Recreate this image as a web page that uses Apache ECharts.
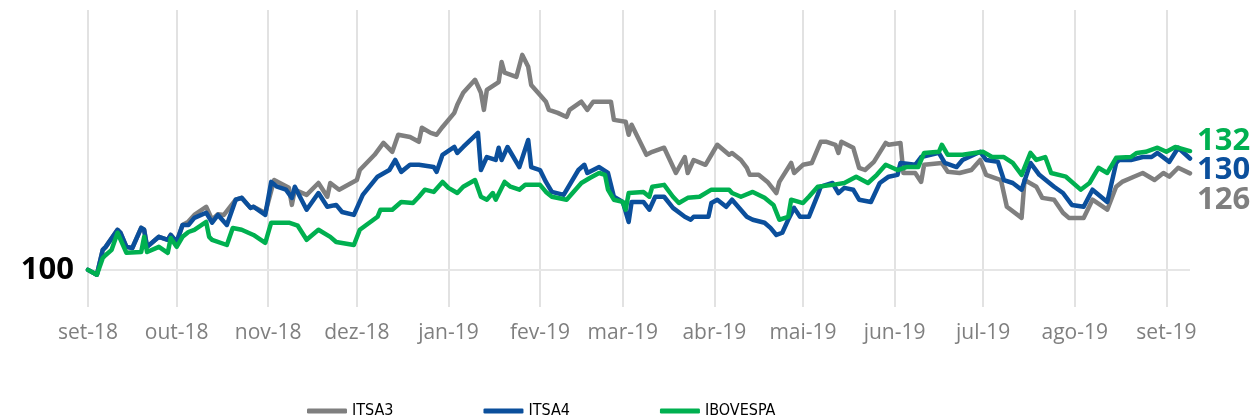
<!DOCTYPE html>
<html>
<head>
<meta charset="utf-8">
<script src="https://cdn.jsdelivr.net/npm/echarts@6/dist/echarts.min.js"></script>
<style>
    html, body { margin: 0; padding: 0; background: #fff; }
    #chart { width: 1257px; height: 419px; }
</style>
</head>
<body>
<div id="chart"></div>
<script>
    // axis runs day by day, labels only on the 1st of each month
    const firstDay = '2018-09-01'
    const lastDay = '2019-09-09'
    const monthLabels = ['set-18', 'out-18', 'nov-18', 'dez-18', 'jan-19', 'fev-19', 'mar-19', 'abr-19', 'mai-19', 'jun-19', 'jul-19', 'ago-19', 'set-19']
    const baseValue = 100

    const itsa3 = [
        ['2018-09-01', 100.0], ['2018-09-04', 98.7], ['2018-09-06', 105.4], ['2018-09-07', 106.2], ['2018-09-11', 110.8], ['2018-09-12', 110.0],
        ['2018-09-14', 106.2], ['2018-09-16', 105.9], ['2018-09-19', 111.3], ['2018-09-20', 110.8], ['2018-09-21', 106.2], ['2018-09-25', 108.9],
        ['2018-09-28', 108.1], ['2018-09-29', 109.4], ['2018-10-01', 107.5], ['2018-10-03', 112.1], ['2018-10-05', 113.0], ['2018-10-07', 114.8],
        ['2018-10-11', 117.0], ['2018-10-13', 113.5], ['2018-10-15', 115.0], ['2018-10-17', 114.8], ['2018-10-21', 118.9], ['2018-10-23', 119.4],
        ['2018-10-26', 116.7], ['2018-10-27', 117.0], ['2018-10-31', 115.3], ['2018-11-03', 124.2], ['2018-11-08', 122.1], ['2018-11-09', 117.5],
        ['2018-11-10', 121.6], ['2018-11-14', 120.2], ['2018-11-18', 123.4], ['2018-11-21', 119.7], ['2018-11-22', 123.4], ['2018-11-25', 121.6],
        ['2018-12-01', 124.2], ['2018-12-02', 126.9], ['2018-12-07', 131.0], ['2018-12-10', 134.2], ['2018-12-13', 131.8], ['2018-12-15', 136.4],
        ['2018-12-19', 135.8], ['2018-12-22', 134.5], ['2018-12-23', 138.3], ['2018-12-26', 136.9], ['2018-12-28', 136.4], ['2018-12-30', 138.5],
        ['2019-01-03', 142.3], ['2019-01-04', 144.5], ['2019-01-06', 147.7], ['2019-01-10', 151.2], ['2019-01-12', 147.7], ['2019-01-13', 143.1],
        ['2019-01-14', 148.5], ['2019-01-18', 150.6], ['2019-01-19', 156.0], ['2019-01-20', 153.1], ['2019-01-24', 152.0], ['2019-01-26', 157.9],
        ['2019-01-28', 154.7], ['2019-01-29', 149.8], ['2019-02-01', 147.1], ['2019-02-03', 145.3], ['2019-02-04', 143.1], ['2019-02-07', 142.3],
        ['2019-02-10', 141.2], ['2019-02-11', 143.1], ['2019-02-15', 145.3], ['2019-02-17', 143.1], ['2019-02-19', 145.3], ['2019-02-25', 145.3],
        ['2019-02-26', 140.4], ['2019-03-02', 139.9], ['2019-03-03', 136.4], ['2019-03-04', 139.1], ['2019-03-09', 131.0], ['2019-03-11', 131.8],
        ['2019-03-15', 132.9], ['2019-03-19', 126.1], ['2019-03-22', 130.4], ['2019-03-23', 126.1], ['2019-03-25', 129.6], ['2019-03-29', 128.3],
        ['2019-04-02', 133.7], ['2019-04-06', 131.0], ['2019-04-07', 131.5], ['2019-04-10', 129.6], ['2019-04-12', 127.5], ['2019-04-13', 125.6],
        ['2019-04-16', 125.6], ['2019-04-19', 123.7], ['2019-04-22', 120.7], ['2019-04-23', 123.7], ['2019-04-27', 128.8], ['2019-04-28', 126.1],
        ['2019-05-01', 128.3], ['2019-05-04', 128.8], ['2019-05-07', 134.5], ['2019-05-09', 134.5], ['2019-05-12', 133.7], ['2019-05-13', 131.5],
        ['2019-05-14', 134.5], ['2019-05-18', 132.9], ['2019-05-20', 127.5], ['2019-05-22', 126.9], ['2019-05-25', 129.1], ['2019-05-29', 134.2],
        ['2019-05-30', 133.7], ['2019-06-03', 134.2], ['2019-06-04', 126.1], ['2019-06-08', 126.1], ['2019-06-10', 123.7], ['2019-06-11', 128.3],
        ['2019-06-17', 128.8], ['2019-06-19', 126.4], ['2019-06-23', 126.1], ['2019-06-27', 126.9], ['2019-06-30', 129.6], ['2019-07-02', 125.6],
        ['2019-07-07', 124.2], ['2019-07-09', 117.0], ['2019-07-14', 114.0], ['2019-07-15', 124.2], ['2019-07-19', 122.4], ['2019-07-21', 119.4],
        ['2019-07-25', 118.9], ['2019-07-28', 115.4], ['2019-07-30', 114.0], ['2019-08-04', 114.0], ['2019-08-07', 118.9], ['2019-08-12', 116.2],
        ['2019-08-15', 122.4], ['2019-08-17', 123.7], ['2019-08-21', 125.1], ['2019-08-24', 126.1], ['2019-08-28', 124.2], ['2019-08-31', 126.1],
        ['2019-09-02', 125.1], ['2019-09-05', 127.5], ['2019-09-09', 126.0]
    ]

    const itsa4 = [
        ['2018-09-01', 100.0], ['2018-09-04', 98.7], ['2018-09-06', 105.4], ['2018-09-07', 106.2], ['2018-09-11', 110.8], ['2018-09-12', 110.0],
        ['2018-09-14', 106.2], ['2018-09-16', 105.9], ['2018-09-19', 111.3], ['2018-09-20', 110.8], ['2018-09-21', 106.2], ['2018-09-25', 108.9],
        ['2018-09-28', 108.1], ['2018-09-29', 109.4], ['2018-10-01', 107.5], ['2018-10-03', 112.1], ['2018-10-05', 112.1], ['2018-10-07', 114.0],
        ['2018-10-11', 115.4], ['2018-10-13', 112.7], ['2018-10-15', 114.8], ['2018-10-18', 112.1], ['2018-10-21', 118.9], ['2018-10-23', 119.4],
        ['2018-10-26', 116.7], ['2018-10-27', 117.0], ['2018-10-31', 114.8], ['2018-11-02', 123.7], ['2018-11-04', 122.4], ['2018-11-07', 121.6],
        ['2018-11-09', 119.4], ['2018-11-10', 122.4], ['2018-11-14', 116.2], ['2018-11-18', 120.7], ['2018-11-21', 117.0], ['2018-11-24', 117.5],
        ['2018-11-26', 115.6], ['2018-11-30', 114.8], ['2018-12-03', 120.2], ['2018-12-08', 125.1], ['2018-12-12', 126.9], ['2018-12-14', 129.6],
        ['2018-12-16', 126.4], ['2018-12-19', 128.3], ['2018-12-22', 128.3], ['2018-12-27', 127.7], ['2018-12-28', 126.4], ['2018-12-30', 131.0],
        ['2019-01-03', 133.1], ['2019-01-04', 131.5], ['2019-01-06', 133.1], ['2019-01-11', 136.9], ['2019-01-12', 126.9], ['2019-01-14', 130.4],
        ['2019-01-17', 129.6], ['2019-01-18', 132.9], ['2019-01-19', 129.6], ['2019-01-21', 133.1], ['2019-01-25', 127.7], ['2019-01-28', 135.0],
        ['2019-01-29', 127.7], ['2019-02-01', 126.9], ['2019-02-03', 123.7], ['2019-02-05', 121.0], ['2019-02-09', 120.2], ['2019-02-14', 126.9],
        ['2019-02-16', 128.3], ['2019-02-17', 126.1], ['2019-02-21', 127.7], ['2019-02-24', 126.1], ['2019-02-26', 119.7], ['2019-03-01', 118.3],
        ['2019-03-03', 112.9], ['2019-03-04', 118.3], ['2019-03-08', 118.3], ['2019-03-10', 116.2], ['2019-03-12', 119.7], ['2019-03-15', 119.7],
        ['2019-03-18', 116.7], ['2019-03-22', 114.3], ['2019-03-24', 113.5], ['2019-03-25', 114.3], ['2019-03-30', 114.3], ['2019-03-31', 118.0],
        ['2019-04-02', 118.9], ['2019-04-05', 117.0], ['2019-04-07', 118.9], ['2019-04-12', 114.3], ['2019-04-14', 113.5], ['2019-04-18', 112.7],
        ['2019-04-20', 111.3], ['2019-04-22', 109.4], ['2019-04-24', 110.0], ['2019-04-26', 113.5], ['2019-04-28', 116.7], ['2019-04-30', 114.3],
        ['2019-05-03', 114.3], ['2019-05-06', 120.2], ['2019-05-07', 122.4], ['2019-05-11', 123.4], ['2019-05-13', 120.7], ['2019-05-15', 122.1],
        ['2019-05-18', 121.6], ['2019-05-20', 118.9], ['2019-05-24', 118.3], ['2019-05-27', 123.4], ['2019-05-30', 125.1], ['2019-06-02', 125.6],
        ['2019-06-03', 128.8], ['2019-06-08', 128.3], ['2019-06-10', 130.4], ['2019-06-16', 131.5], ['2019-06-18', 128.8], ['2019-06-22', 127.7],
        ['2019-06-24', 129.6], ['2019-06-30', 131.8], ['2019-07-02', 129.6], ['2019-07-06', 129.1], ['2019-07-08', 124.2], ['2019-07-11', 123.4],
        ['2019-07-14', 121.6], ['2019-07-17', 128.8], ['2019-07-20', 125.6], ['2019-07-23', 123.7], ['2019-07-25', 122.4], ['2019-07-28', 120.7],
        ['2019-07-31', 117.5], ['2019-08-04', 117.0], ['2019-08-07', 121.6], ['2019-08-12', 118.3], ['2019-08-15', 128.8], ['2019-08-16', 129.6],
        ['2019-08-20', 129.6], ['2019-08-24', 130.4], ['2019-08-27', 130.4], ['2019-08-29', 131.5], ['2019-09-02', 129.1], ['2019-09-05', 132.9],
        ['2019-09-09', 130.0]
    ]

    const ibovespa = [
        ['2018-09-01', 100.0], ['2018-09-04', 98.7], ['2018-09-06', 103.2], ['2018-09-07', 104.0], ['2018-09-09', 105.4], ['2018-09-11', 110.0],
        ['2018-09-14', 104.6], ['2018-09-19', 104.8], ['2018-09-20', 108.9], ['2018-09-21', 104.8], ['2018-09-25', 106.2], ['2018-09-28', 104.6],
        ['2018-09-29', 108.6], ['2018-10-01', 106.2], ['2018-10-03', 108.9], ['2018-10-05', 110.2], ['2018-10-07', 110.8], ['2018-10-11', 112.9],
        ['2018-10-12', 108.9], ['2018-10-13', 108.1], ['2018-10-18', 106.7], ['2018-10-20', 111.3], ['2018-10-23', 110.8], ['2018-10-27', 109.4],
        ['2018-10-31', 107.3], ['2018-11-02', 112.7], ['2018-11-08', 112.7], ['2018-11-11', 111.9], ['2018-11-14', 108.1], ['2018-11-18', 110.8],
        ['2018-11-22', 108.9], ['2018-11-24', 107.5], ['2018-11-30', 106.7], ['2018-12-02', 110.8], ['2018-12-08', 114.3], ['2018-12-09', 116.2],
        ['2018-12-13', 116.2], ['2018-12-16', 118.3], ['2018-12-20', 118.0], ['2018-12-22', 119.7], ['2018-12-24', 121.6], ['2018-12-27', 121.0],
        ['2018-12-30', 123.7], ['2019-01-01', 122.1], ['2019-01-04', 120.7], ['2019-01-06', 122.4], ['2019-01-10', 124.2], ['2019-01-12', 119.7],
        ['2019-01-14', 118.9], ['2019-01-16', 120.7], ['2019-01-17', 118.9], ['2019-01-20', 123.7], ['2019-01-22', 122.4], ['2019-01-25', 121.6],
        ['2019-01-27', 122.9], ['2019-02-01', 122.9], ['2019-02-03', 121.0], ['2019-02-05', 119.7], ['2019-02-10', 118.9], ['2019-02-15', 123.4],
        ['2019-02-18', 124.8], ['2019-02-21', 126.1], ['2019-02-23', 125.6], ['2019-02-24', 121.6], ['2019-02-26', 118.9], ['2019-03-01', 118.3],
        ['2019-03-02', 116.2], ['2019-03-03', 120.7], ['2019-03-08', 121.0], ['2019-03-10', 119.7], ['2019-03-11', 122.4], ['2019-03-15', 122.9],
        ['2019-03-18', 119.7], ['2019-03-20', 118.0], ['2019-03-23', 119.4], ['2019-03-27', 119.7], ['2019-03-31', 121.6], ['2019-04-06', 121.6],
        ['2019-04-07', 120.7], ['2019-04-10', 119.7], ['2019-04-14', 121.0], ['2019-04-18', 119.4], ['2019-04-21', 117.5], ['2019-04-23', 113.5],
        ['2019-04-26', 114.3], ['2019-04-27', 118.9], ['2019-05-01', 118.0], ['2019-05-03', 119.7], ['2019-05-06', 122.4], ['2019-05-11', 122.9],
        ['2019-05-15', 123.4], ['2019-05-19', 125.1], ['2019-05-23', 123.4], ['2019-05-26', 125.6], ['2019-05-29', 128.3], ['2019-06-02', 126.9],
        ['2019-06-05', 127.7], ['2019-06-09', 127.7], ['2019-06-11', 131.5], ['2019-06-16', 131.8], ['2019-06-17', 133.7], ['2019-06-19', 131.0],
        ['2019-06-24', 131.0], ['2019-06-28', 131.5], ['2019-07-01', 131.8], ['2019-07-04', 130.4], ['2019-07-08', 130.4], ['2019-07-11', 128.8],
        ['2019-07-14', 125.6], ['2019-07-17', 131.5], ['2019-07-19', 129.6], ['2019-07-22', 130.4], ['2019-07-24', 126.1], ['2019-07-29', 125.1],
        ['2019-08-03', 121.6], ['2019-08-06', 123.4], ['2019-08-09', 127.5], ['2019-08-12', 126.1], ['2019-08-15', 130.2], ['2019-08-20', 130.4],
        ['2019-08-22', 131.5], ['2019-08-25', 131.8], ['2019-08-29', 132.9], ['2019-09-01', 131.8], ['2019-09-04', 133.1], ['2019-09-09', 132.0]
    ]

    function dayList(from, to) {
        const out = []
        let t = Date.parse(from + 'T00:00:00Z')
        const end = Date.parse(to + 'T00:00:00Z')
        while (t <= end) {
            out.push(new Date(t).toISOString().slice(0, 10))
            t += 86400000
        }
        return out
    }

    const days = dayList(firstDay, lastDay)
    const isMonthStart = (i, v) => v.slice(8) === '01'
    const monthLabel = (v) => {
        const idx = (+v.slice(0, 4) - 2018) * 12 + (+v.slice(5, 7)) - 9
        return monthLabels[idx]
    }

    const numFont = '"Open Sans", Lato, sans-serif'

    function makeSeries(name, data, color, endOffset) {
        return {
            name: name,
            type: 'line',
            data: data,
            symbol: 'none',
            showSymbol: false,
            connectNulls: true,
            lineStyle: { color: color, width: 4.5, join: 'round', cap: 'round' },
            itemStyle: { color: color },
            endLabel: {
                show: true,
                distance: 7,
                offset: [0, endOffset],
                color: color,
                fontFamily: numFont,
                fontWeight: 'bold',
                fontSize: 31,
                formatter: (p) => Math.round(p.value[1])
            }
        }
    }

    const series = [
        makeSeries('ITSA3', itsa3, '#7f7f7f', 27),
        makeSeries('ITSA4', itsa4, '#0b4f9c', 12),
        makeSeries('IBOVESPA', ibovespa, '#00b050', -10)
    ]

    // base line at 100 with its big label on the left
    series[0].markLine = {
        silent: true,
        symbol: 'none',
        z: 1,
        lineStyle: { color: '#e6e6e6', width: 2, type: 'solid' },
        label: {
            show: true,
            position: 'start',
            distance: 14,
            formatter: String(baseValue),
            color: '#000',
            fontFamily: numFont,
            fontWeight: 'bold',
            fontSize: 31
        },
        data: [{ yAxis: baseValue }]
    }

    const chart = echarts.init(document.getElementById('chart'), null, { renderer: 'canvas' })

    chart.setOption({
        animation: false,
        grid: { left: 88, right: 67, top: 10, bottom: 112 },
        legend: {
            data: ['ITSA3', 'ITSA4', 'IBOVESPA'],
            left: 307,
            top: 403,
            padding: 0,
            icon: 'roundRect',
            itemWidth: 40,
            itemHeight: 5,
            itemGap: 90,
            textStyle: {
                color: '#000',
                fontSize: 16,
                fontFamily: '"Liberation Sans Narrow", "DejaVu Sans Condensed", sans-serif'
            }
        },
        xAxis: {
            type: 'category',
            data: days,
            boundaryGap: false,
            axisLine: { show: false },
            axisTick: { show: false },
            axisLabel: {
                interval: isMonthStart,
                formatter: monthLabel,
                color: '#7f7f7f',
                fontSize: 21,
                fontFamily: numFont,
                margin: 16
            },
            splitLine: {
                show: true,
                interval: isMonthStart,
                lineStyle: { color: '#d9d9d9', width: 1.5 }
            }
        },
        yAxis: {
            type: 'value',
            min: 90,
            max: 170,
            show: false,
            splitLine: { show: false }
        },
        series: series
    })
</script>
</body>
</html>
